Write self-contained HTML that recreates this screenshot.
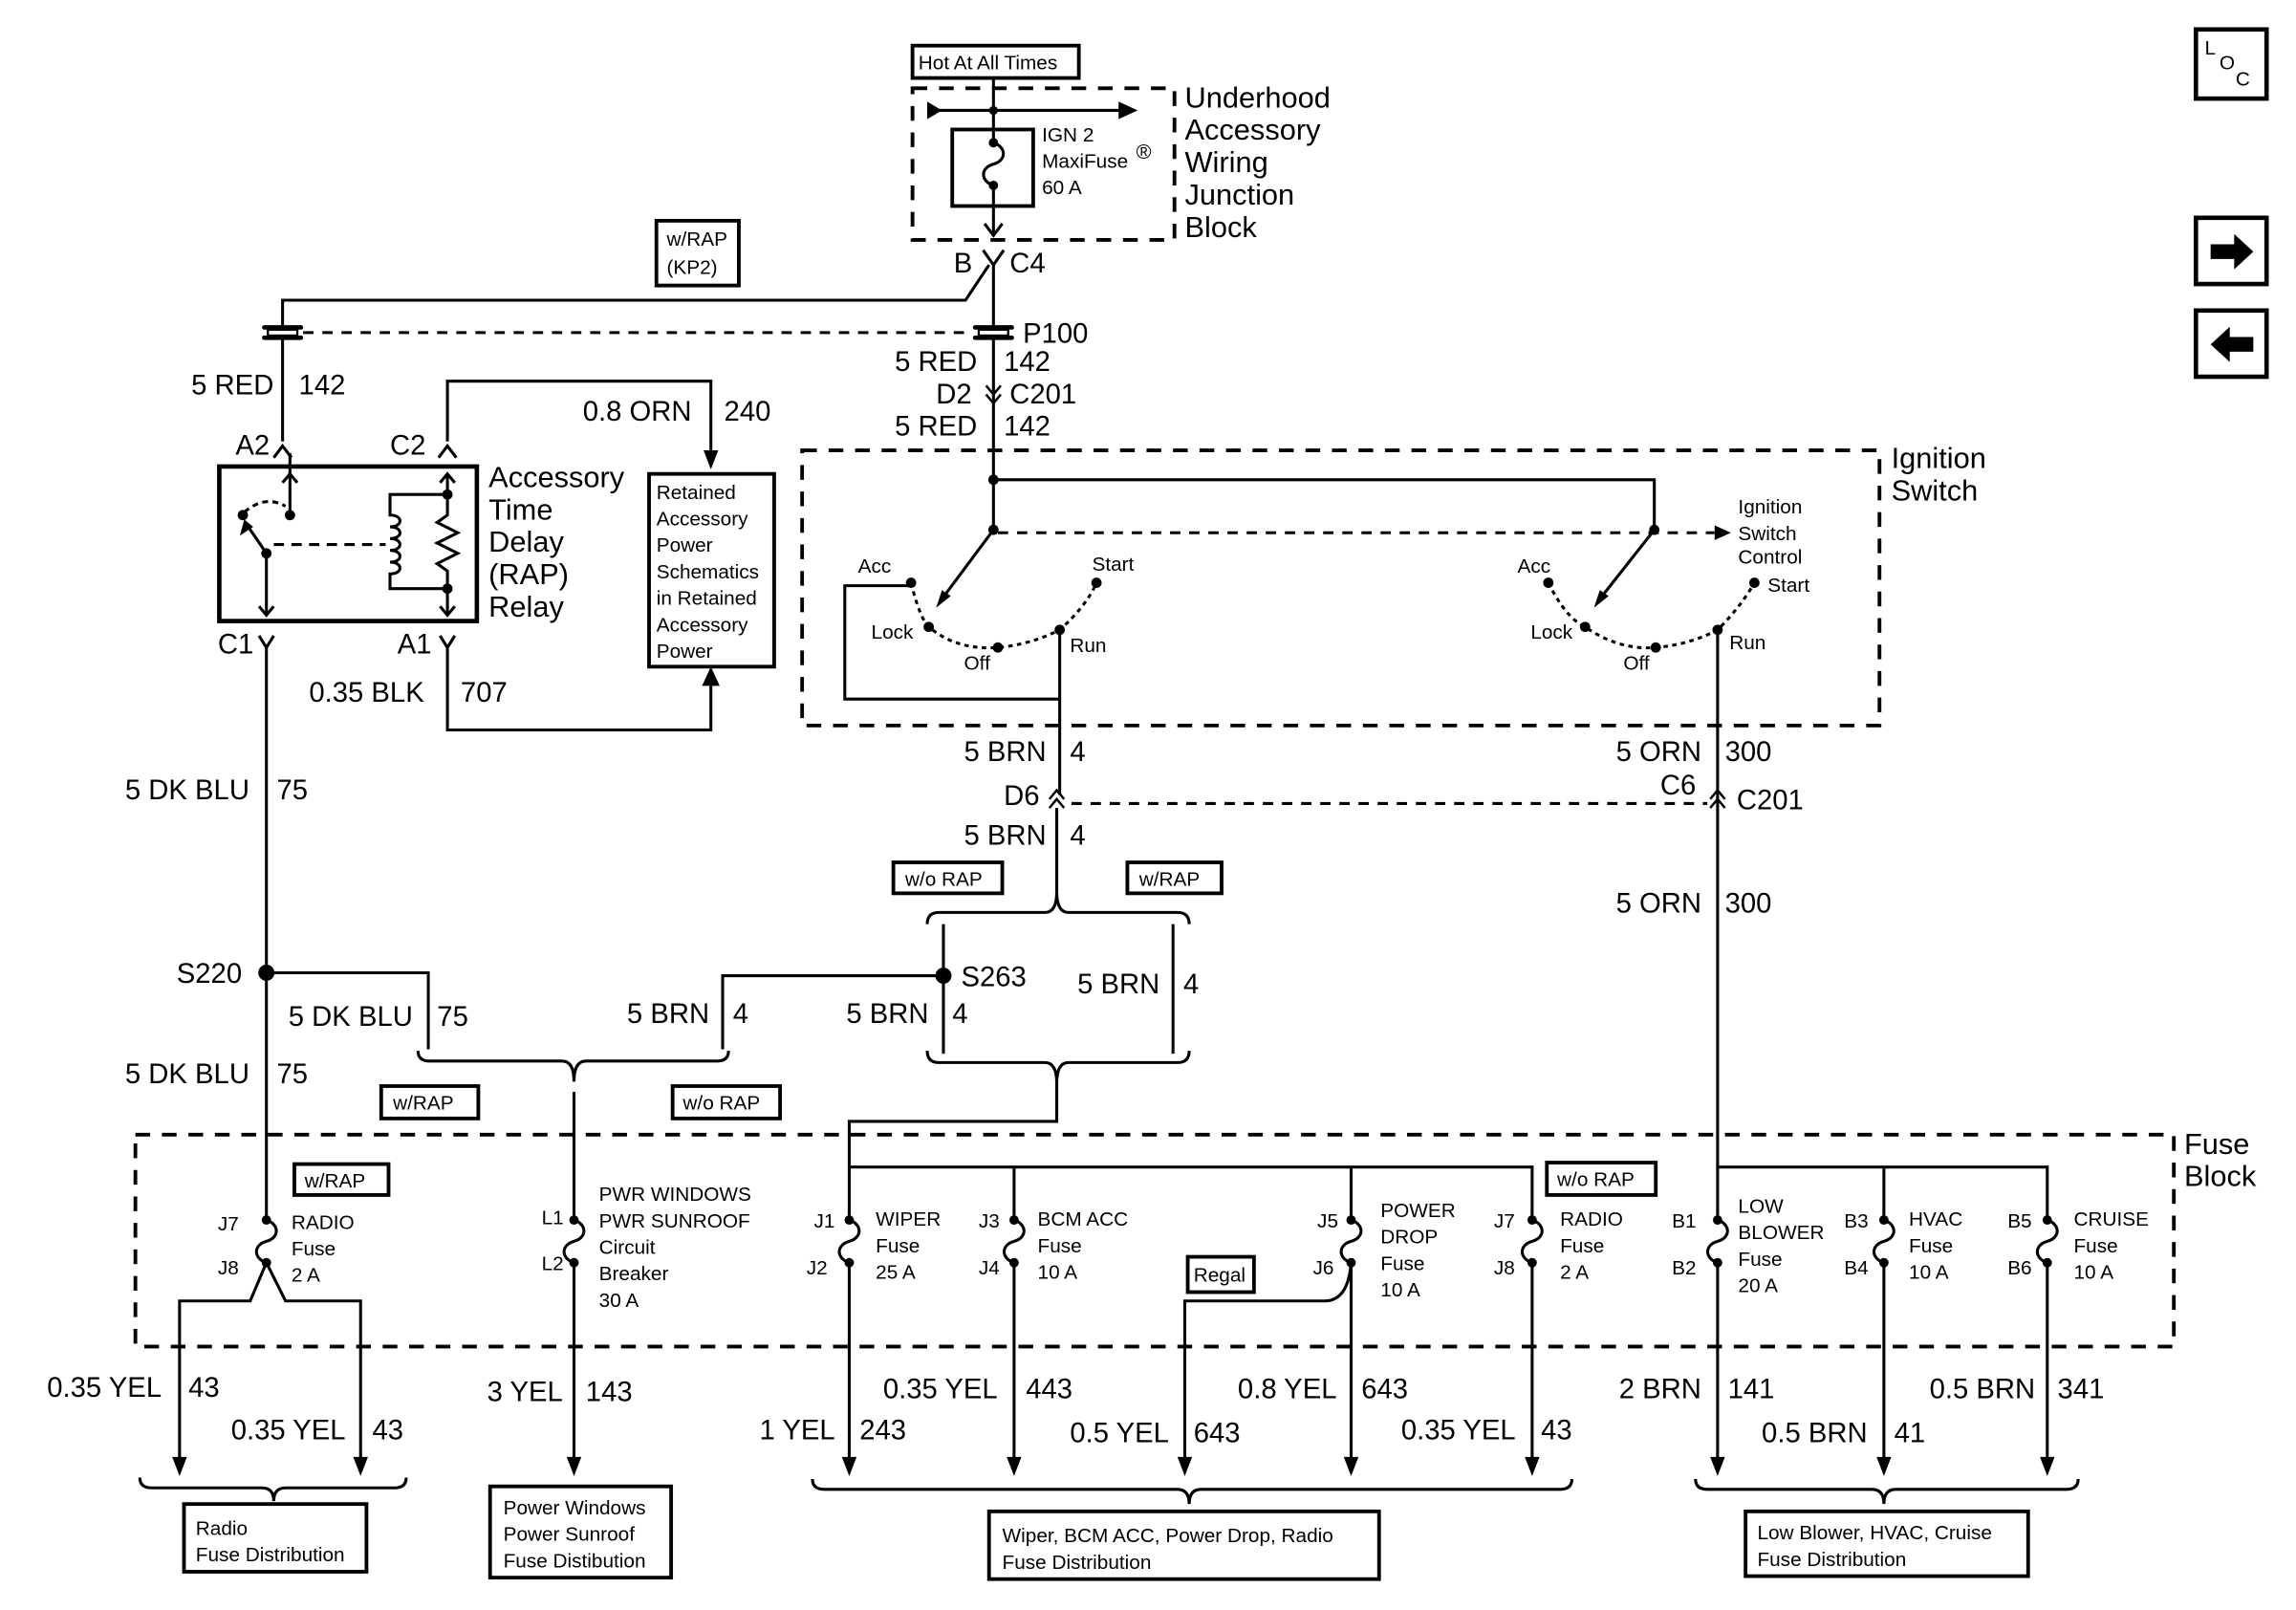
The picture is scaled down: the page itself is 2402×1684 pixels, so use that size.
<!DOCTYPE html>
<html><head><meta charset="utf-8"><style>
html,body{margin:0;padding:0;background:#fff}
svg{display:block}
text{font-family:"Liberation Sans",Arial,sans-serif;fill:#000}
.b{font-size:19px}.s{font-size:13.5px}.m{font-size:20px}
</style></head><body>
<svg width="2402" height="1684" viewBox="0 0 1560 1094" preserveAspectRatio="none" xmlns="http://www.w3.org/2000/svg">
<defs>
<g id="fuse"><circle cx="0" cy="0" r="3.2"/><circle cx="0" cy="29" r="3.2"/><path d="M0,0 C9,3 9,12 0,14.5 C-9,17 -9,26 0,29" fill="none" stroke="#000" stroke-width="2"/></g>
<path id="cd" d="M-6,-7 L0,1 L6,-7" fill="none" stroke="#000" stroke-width="2"/>
<path id="cu" d="M-6,7 L0,-1 L6,7" fill="none" stroke="#000" stroke-width="2"/>
<polygon id="ad" points="-5,-12 5,-12 0,1"/>
<g id="p100"><rect x="-14" y="-5" width="28" height="3" rx="1.5"/><rect x="-14" y="2" width="28" height="3" rx="1.5"/><rect x="-10" y="-2" width="20" height="4" fill="#fff" stroke="#000" stroke-width="1.5"/></g>
</defs>
<g fill="none" stroke="#000" stroke-width="2">
<!-- top -->
<rect x="620" y="31" width="113" height="22" stroke-width="2.5"/>
<rect x="620" y="60" width="178" height="103" stroke-width="2.5" stroke-dasharray="10,8"/>
<line x1="630" y1="75" x2="765" y2="75"/>
<line x1="675" y1="53" x2="675" y2="97"/>
<line x1="675" y1="126" x2="675" y2="160"/>
<rect x="647" y="88" width="55" height="52" stroke-width="2.5"/>
<path d="M669,152 L675,160 L681,152"/>
<path d="M668,170 L675,180 L682,170"/>
<path d="M672,180 L656,204 L192,204 L192,300"/>
<line x1="675" y1="180" x2="675" y2="326"/>
<line x1="206" y1="226" x2="660" y2="226" stroke-dasharray="7,6"/>
<!-- D2 C201 double chevron -->
<path d="M670,262 L675,268 L680,262 M670,268 L675,274 L680,268" stroke-width="1.6"/>
<!-- relay -->
<rect x="149" y="317" width="175" height="105" stroke-width="3"/>
<path d="M304,300 L304,259 L483,259 L483,306"/>
<line x1="197" y1="308" x2="197" y2="350"/>
<path d="M192,328 L197,322 L202,328"/>
<path d="M166,348 Q180,336 194,344" stroke-dasharray="4,3"/>
<line x1="181" y1="376" x2="181" y2="418"/>
<path d="M176,412 L181,418 L186,412"/>
<line x1="181" y1="376" x2="168" y2="357"/>
<line x1="186" y1="370" x2="262" y2="370" stroke-dasharray="7,5"/>
<path d="M304,336 L265,336 L265,350 C274,350 274,358 265,358 C274,358 274,366 265,366 C274,366 274,374 265,374 C274,374 274,382 265,382 C274,382 274,390 265,390 L265,400 L304,400"/>
<path d="M304,322 L304,350 L297,355 L311,362 L297,369 L311,376 L297,383 L304,388 L304,418"/>
<path d="M299,328 L304,322 L309,328 M299,412 L304,418 L309,412"/>
<path d="M176,432 L181,440 L186,432 M299,432 L304,440 L309,432"/>
<path d="M304,440 L304,496 L483,496 L483,466"/>
<rect x="441" y="322" width="85" height="131" stroke-width="2.5"/>
<line x1="181" y1="440" x2="181" y2="829"/>
<!-- ignition -->
<rect x="545" y="306" width="732" height="187" stroke-width="2.5" stroke-dasharray="10,8"/>
<path d="M675,326 L1124,326 L1124,360"/>
<line x1="675" y1="326" x2="675" y2="360"/>
<line x1="675" y1="360" x2="640" y2="407"/>
<line x1="1124" y1="360" x2="1087" y2="407"/>
<line x1="678" y1="362" x2="1165" y2="362" stroke-dasharray="7,6"/>
<path d="M619,396 Q625,420 631,426 Q650,442 678,440 Q700,438 720,428 Q738,412 745,396" stroke-dasharray="3,3"/>
<path d="M1052,396 Q1064,420 1077,426 Q1100,442 1125,440 Q1148,438 1167,428 Q1183,412 1192,396" stroke-dasharray="3,3"/>
<path d="M619,398 L574,398 L574,475 L720,475"/>
<line x1="720" y1="428" x2="720" y2="540"/>
<line x1="1167" y1="428" x2="1167" y2="829"/>
<path d="M713,543 L718,537 L723,543 M713,549 L718,543 L723,549" stroke-width="1.6"/>
<path d="M1162,543 L1167,537 L1172,543 M1162,549 L1167,543 L1172,549" stroke-width="1.6"/>
<line x1="728" y1="546" x2="1160" y2="546" stroke-dasharray="7,6"/>
<line x1="718" y1="549" x2="718" y2="606"/>
<!-- brackets middle -->
<path d="M630,628 Q630,620 638,620 L710,620 Q718,620 718,606 Q718,620 726,620 L800,620 Q808,620 808,628"/>
<line x1="641" y1="628" x2="641" y2="716"/>
<line x1="797" y1="628" x2="797" y2="716"/>
<path d="M630,714 Q630,722 638,722 L710,722 Q718,722 718,736 Q718,722 726,722 L800,722 Q808,722 808,714"/>
<path d="M718,736 L718,762 L577,762 L577,829"/>
<path d="M577,793 L1041,793 L1041,829 M689,793 L689,829 M918,793 L918,829"/>
<path d="M641,663 L491,663 L491,713"/>
<path d="M181,661 L291,661 L291,713"/>
<path d="M284,714 Q284,721 292,721 L382,721 Q390,721 390,735 Q390,721 398,721 L487,721 Q495,721 495,714"/>
<line x1="390" y1="742" x2="390" y2="829"/>
<!-- fuse block -->
<rect x="92" y="771" width="1385" height="144" stroke-width="2.5" stroke-dasharray="10,8"/>
<path d="M1167,793 L1391,793 L1391,829 M1280,793 L1280,829"/>
<!-- below fuses -->
<path d="M181,858 L170,884 L122,884 L122,992 M181,858 L194,884 L245,884 L245,992"/>
<line x1="390" y1="858" x2="390" y2="992"/>
<line x1="577" y1="858" x2="577" y2="992"/>
<line x1="689" y1="858" x2="689" y2="992"/>
<path d="M918,858 L918,992 M918,858 Q916,884 900,884 L805,884 L805,992"/>
<line x1="1041" y1="858" x2="1041" y2="992"/>
<line x1="1167" y1="858" x2="1167" y2="992"/>
<line x1="1280" y1="858" x2="1280" y2="992"/>
<line x1="1391" y1="858" x2="1391" y2="992"/>
<path d="M95,1004 Q95,1011 103,1011 L178,1011 Q186,1011 186,1020 Q186,1011 194,1011 L268,1011 Q276,1011 276,1004"/>
<path d="M552,1005 Q552,1012 560,1012 L800,1012 Q808,1012 808,1022 Q808,1012 816,1012 L1060,1012 Q1068,1012 1068,1005"/>
<path d="M1152,1005 Q1152,1012 1160,1012 L1272,1012 Q1280,1012 1280,1022 Q1280,1012 1288,1012 L1404,1012 Q1412,1012 1412,1005"/>
<!-- boxes -->
<rect x="446" y="150" width="56" height="44" stroke-width="2.5"/>
<rect x="259" y="738" width="66" height="22" stroke-width="2.5"/>
<rect x="457" y="738" width="73" height="22" stroke-width="2.5"/>
<rect x="607" y="586" width="74" height="21" stroke-width="2.5"/>
<rect x="766" y="586" width="64" height="21" stroke-width="2.5"/>
<rect x="200" y="791" width="64" height="21" stroke-width="2.5"/>
<rect x="1051" y="790" width="74" height="22" stroke-width="2.5"/>
<rect x="807" y="854" width="45" height="24" stroke-width="2.5"/>
<rect x="125" y="1022" width="124" height="46" stroke-width="2.5"/>
<rect x="333" y="1010" width="123" height="62" stroke-width="2.5"/>
<rect x="672" y="1027" width="265" height="46" stroke-width="2.5"/>
<rect x="1186" y="1027" width="192" height="44" stroke-width="2.5"/>
<rect x="1492" y="20" width="48" height="47" stroke-width="3"/>
<rect x="1492" y="148" width="48" height="45" stroke-width="3"/>
<rect x="1492" y="211" width="48" height="45" stroke-width="3"/>
</g>
<!-- fills -->
<polygon points="630,69 630,81 640,75"/><polygon points="760,69 760,81 773,75"/>
<circle cx="675" cy="75" r="3"/>
<use href="#fuse" x="675" y="97"/>
<use href="#p100" x="675" y="226"/><use href="#p100" x="192" y="226"/>
<use href="#cu" x="192" y="304"/><use href="#cu" x="304" y="304"/>
<use href="#ad" x="483" y="318"/>
<polygon points="477,466 489,466 483,453"/>
<circle cx="197" cy="350" r="3.5"/><circle cx="165" cy="350" r="3.5"/><circle cx="181" cy="376" r="3.5"/>
<polygon points="166,353 163,364 172,358"/>
<circle cx="304" cy="336" r="3.5"/><circle cx="304" cy="400" r="3.5"/>
<circle cx="675" cy="326" r="3.5"/><circle cx="675" cy="360" r="3.5"/><circle cx="1124" cy="360" r="3.5"/>
<polygon points="636,413 640,401 646,405"/><polygon points="1083,413 1087,401 1093,405"/>
<polygon points="1165,357 1165,367 1176,362"/>
<g><circle cx="619" cy="396" r="3.5"/><circle cx="745" cy="396" r="3.5"/><circle cx="631" cy="426" r="3.5"/><circle cx="678" cy="440" r="3.5"/><circle cx="720" cy="428" r="3.5"/>
<circle cx="1052" cy="396" r="3.5"/><circle cx="1192" cy="396" r="3.5"/><circle cx="1077" cy="426" r="3.5"/><circle cx="1125" cy="440" r="3.5"/><circle cx="1167" cy="428" r="3.5"/></g>
<circle cx="181" cy="661" r="5.5"/><circle cx="641" cy="663" r="5.5"/>
<use href="#fuse" x="181" y="829"/><use href="#fuse" x="390" y="829"/><use href="#fuse" x="577" y="829"/><use href="#fuse" x="689" y="829"/>
<use href="#fuse" x="918" y="829"/><use href="#fuse" x="1041" y="829"/><use href="#fuse" x="1167" y="829"/><use href="#fuse" x="1280" y="829"/><use href="#fuse" x="1391" y="829"/>
<use href="#ad" x="122" y="1002"/><use href="#ad" x="245" y="1002"/><use href="#ad" x="390" y="1002"/><use href="#ad" x="577" y="1002"/><use href="#ad" x="689" y="1002"/>
<use href="#ad" x="805" y="1002"/><use href="#ad" x="918" y="1002"/><use href="#ad" x="1041" y="1002"/><use href="#ad" x="1167" y="1002"/><use href="#ad" x="1280" y="1002"/><use href="#ad" x="1391" y="1002"/>
<!-- nav arrows -->
<polygon points="1502,166 1518,166 1518,159 1531,171 1518,183 1518,176 1502,176"/>
<polygon points="1531,229 1515,229 1515,222 1502,234 1515,246 1515,239 1531,239"/>
<!-- text -->
<text class="s" x="624" y="47">Hot At All Times</text>
<text class="s" x="708" y="96">IGN 2</text><text class="s" x="708" y="114">MaxiFuse</text><text x="772" y="108" style="font-size:14px">®</text><text class="s" x="708" y="132">60 A</text>
<text class="m" x="805" y="73">Underhood</text><text class="m" x="805" y="95">Accessory</text><text class="m" x="805" y="117">Wiring</text><text class="m" x="805" y="139">Junction</text><text class="m" x="805" y="161">Block</text>
<text class="b" x="648" y="185">B</text><text class="b" x="686" y="185">C4</text>
<text class="s" x="453" y="167">w/RAP</text><text class="s" x="453" y="186">(KP2)</text>
<text class="b" x="695" y="233">P100</text>
<text class="b" x="608" y="252">5 RED</text><text class="b" x="682" y="252">142</text>
<text class="b" x="636" y="274">D2</text><text class="b" x="686" y="274">C201</text>
<text class="b" x="608" y="296">5 RED</text><text class="b" x="682" y="296">142</text>
<text class="b" x="130" y="268">5 RED</text><text class="b" x="203" y="268">142</text>
<text class="b" x="396" y="286">0.8 ORN</text><text class="b" x="492" y="286">240</text>
<text class="b" x="160" y="309">A2</text><text class="b" x="265" y="309">C2</text>
<text class="m" x="332" y="331">Accessory</text><text class="m" x="332" y="353">Time</text><text class="m" x="332" y="375">Delay</text><text class="m" x="332" y="397">(RAP)</text><text class="m" x="332" y="419">Relay</text>
<g class="s"><text x="446" y="339">Retained</text><text x="446" y="357">Accessory</text><text x="446" y="375">Power</text><text x="446" y="393">Schematics</text><text x="446" y="411">in Retained</text><text x="446" y="429">Accessory</text><text x="446" y="447">Power</text></g>
<text class="b" x="148" y="444">C1</text><text class="b" x="270" y="444">A1</text>
<text class="b" x="210" y="477">0.35 BLK</text><text class="b" x="313" y="477">707</text>
<text class="b" x="85" y="543">5 DK BLU</text><text class="b" x="188" y="543">75</text>
<text class="b" x="120" y="668">S220</text>
<text class="b" x="196" y="697">5 DK BLU</text><text class="b" x="297" y="697">75</text>
<text class="b" x="85" y="736">5 DK BLU</text><text class="b" x="188" y="736">75</text>
<text class="s" x="267" y="754">w/RAP</text><text class="s" x="464" y="754">w/o RAP</text>
<text class="b" x="426" y="695">5 BRN</text><text class="b" x="498" y="695">4</text>
<text class="b" x="575" y="695">5 BRN</text><text class="b" x="647" y="695">4</text>
<text class="b" x="653" y="670">S263</text>
<text class="b" x="732" y="675">5 BRN</text><text class="b" x="804" y="675">4</text>
<text class="s" x="615" y="602">w/o RAP</text><text class="s" x="774" y="602">w/RAP</text>
<text class="s" x="583" y="389">Acc</text><text class="s" x="742" y="388">Start</text><text class="s" x="592" y="434">Lock</text><text class="s" x="655" y="455">Off</text><text class="s" x="727" y="443">Run</text>
<text class="s" x="1031" y="389">Acc</text><text class="s" x="1201" y="402">Start</text><text class="s" x="1040" y="434">Lock</text><text class="s" x="1103" y="455">Off</text><text class="s" x="1175" y="441">Run</text>
<text class="s" x="1181" y="349">Ignition</text><text class="s" x="1181" y="367">Switch</text><text class="s" x="1181" y="383">Control</text>
<text class="m" x="1285" y="318">Ignition</text><text class="m" x="1285" y="340">Switch</text>
<text class="b" x="655" y="517">5 BRN</text><text class="b" x="727" y="517">4</text>
<text class="b" x="1098" y="517">5 ORN</text><text class="b" x="1172" y="517">300</text>
<text class="b" x="682" y="547">D6</text><text class="b" x="1128" y="540">C6</text><text class="b" x="1180" y="550">C201</text>
<text class="b" x="655" y="574">5 BRN</text><text class="b" x="727" y="574">4</text>
<text class="b" x="1098" y="620">5 ORN</text><text class="b" x="1172" y="620">300</text>
<text class="m" x="1484" y="784">Fuse</text><text class="m" x="1484" y="806">Block</text>
<g class="s">
<text x="207" y="807">w/RAP</text><text x="1058" y="806">w/o RAP</text><text x="811" y="871">Regal</text>
<text x="148" y="836">J7</text><text x="148" y="866">J8</text><text x="198" y="835">RADIO</text><text x="198" y="853">Fuse</text><text x="198" y="871">2 A</text>
<text x="368" y="832">L1</text><text x="368" y="863">L2</text><text x="407" y="816">PWR WINDOWS</text><text x="407" y="834">PWR SUNROOF</text><text x="407" y="852">Circuit</text><text x="407" y="870">Breaker</text><text x="407" y="888">30 A</text>
<text x="553" y="834">J1</text><text x="548" y="866">J2</text><text x="595" y="833">WIPER</text><text x="595" y="851">Fuse</text><text x="595" y="869">25 A</text>
<text x="665" y="834">J3</text><text x="665" y="866">J4</text><text x="705" y="833">BCM ACC</text><text x="705" y="851">Fuse</text><text x="705" y="869">10 A</text>
<text x="895" y="834">J5</text><text x="892" y="866">J6</text><text x="938" y="827">POWER</text><text x="938" y="845">DROP</text><text x="938" y="863">Fuse</text><text x="938" y="881">10 A</text>
<text x="1015" y="834">J7</text><text x="1015" y="866">J8</text><text x="1060" y="833">RADIO</text><text x="1060" y="851">Fuse</text><text x="1060" y="869">2 A</text>
<text x="1136" y="834">B1</text><text x="1136" y="866">B2</text><text x="1181" y="824">LOW</text><text x="1181" y="842">BLOWER</text><text x="1181" y="860">Fuse</text><text x="1181" y="878">20 A</text>
<text x="1253" y="834">B3</text><text x="1253" y="866">B4</text><text x="1297" y="833">HVAC</text><text x="1297" y="851">Fuse</text><text x="1297" y="869">10 A</text>
<text x="1364" y="834">B5</text><text x="1364" y="866">B6</text><text x="1409" y="833">CRUISE</text><text x="1409" y="851">Fuse</text><text x="1409" y="869">10 A</text>
<text x="133" y="1043">Radio</text><text x="133" y="1061">Fuse Distribution</text>
<text x="342" y="1029">Power Windows</text><text x="342" y="1047">Power Sunroof</text><text x="342" y="1065">Fuse Distibution</text>
<text x="681" y="1048">Wiper, BCM ACC, Power Drop, Radio</text><text x="681" y="1066">Fuse Distribution</text>
<text x="1194" y="1046">Low Blower, HVAC, Cruise</text><text x="1194" y="1064">Fuse Distribution</text>
<text x="1498" y="37">L</text><text x="1508" y="47">O</text><text x="1519" y="58">C</text>
</g>
<text class="b" x="32" y="949">0.35 YEL</text><text class="b" x="128" y="949">43</text>
<text class="b" x="157" y="978">0.35 YEL</text><text class="b" x="253" y="978">43</text>
<text class="b" x="331" y="952">3 YEL</text><text class="b" x="398" y="952">143</text>
<text class="b" x="516" y="978">1 YEL</text><text class="b" x="584" y="978">243</text>
<text class="b" x="600" y="950">0.35 YEL</text><text class="b" x="697" y="950">443</text>
<text class="b" x="727" y="980">0.5 YEL</text><text class="b" x="811" y="980">643</text>
<text class="b" x="841" y="950">0.8 YEL</text><text class="b" x="925" y="950">643</text>
<text class="b" x="952" y="978">0.35 YEL</text><text class="b" x="1047" y="978">43</text>
<text class="b" x="1100" y="950">2 BRN</text><text class="b" x="1174" y="950">141</text>
<text class="b" x="1197" y="980">0.5 BRN</text><text class="b" x="1287" y="980">41</text>
<text class="b" x="1311" y="950">0.5 BRN</text><text class="b" x="1398" y="950">341</text>
</svg>
</body></html>
